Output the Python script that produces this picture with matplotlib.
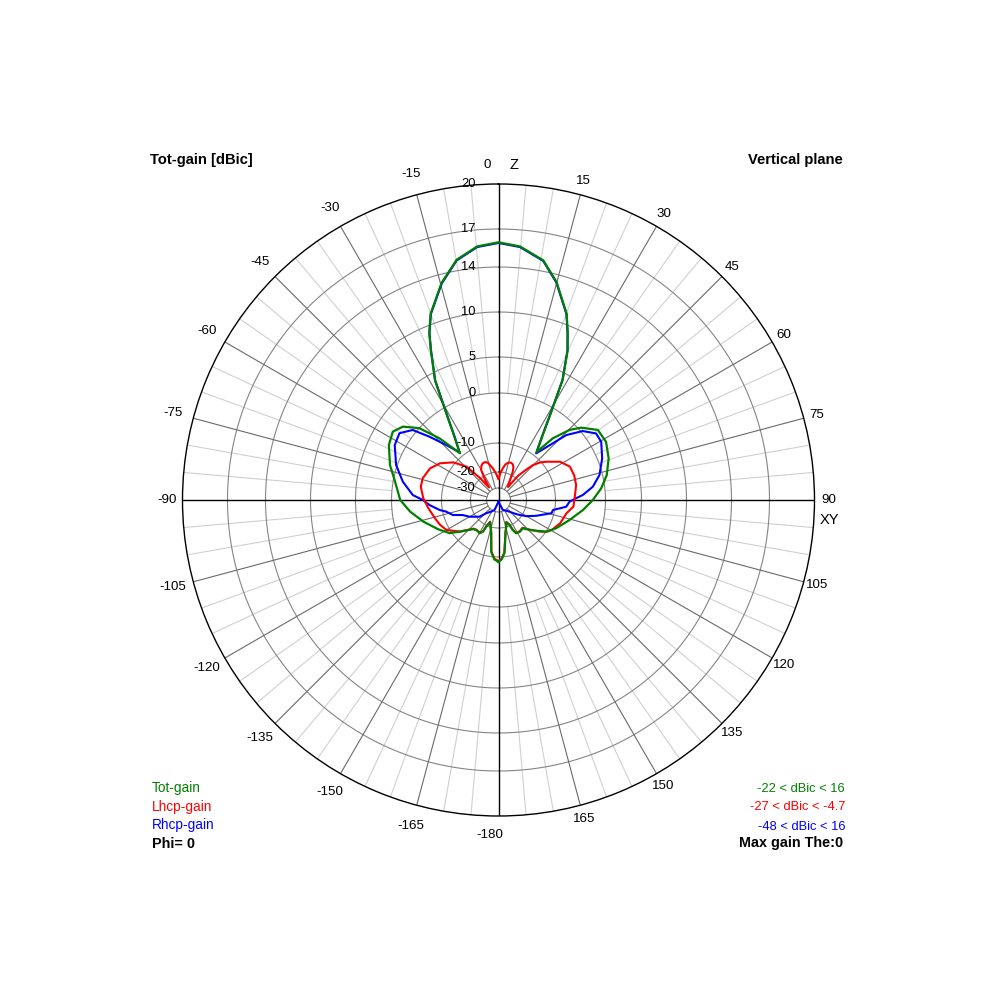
import numpy as np
import matplotlib
matplotlib.use("Agg")
import matplotlib.pyplot as plt

plt.rcParams['font.family'] = ['Liberation Sans', 'DejaVu Sans']

# ---------------- data ----------------
# non-linear dB scale of the chart: level -> relative radius
SCALE_DB = [-50, -30, -20, -10, 0, 5, 10, 14, 17, 20]
SCALE_R = [1.4, 12, 28, 57, 107, 143, 188, 233, 271, 316]

GRID_DB = [-30, -20, -10, 0, 5, 10, 14, 17, 20]
GRID_LABELS = ['-30', '-20', '-10', '0', '5', '10', '14', '17', '20']

ANGLE_TICKS = [15, 30, 45, 60, 75, 90, 105, 120, 135, 150, 165, 180,
               -15, -30, -45, -60, -75, -90, -105, -120, -135, -150, -165]
ANGLE_LABELS = ['15', '30', '45', '60', '75', '90', '105', '120', '135', '150', '165', '-180',
                '-15', '-30', '-45', '-60', '-75', '-90', '-105', '-120', '-135', '-150', '-165']

# Total gain (dBic) vs elevation angle theta (deg, 0 = zenith, clockwise)
TOT_ANG = [-180, -176, -172, -167.6, -163.5, -159, -155.3, -153.7, -150.3, -147, -143.4, -139,
           -134.6, -129.5, -124, -115.8, -106.1, -97.5, -90, -80, -72.1, -63.4, -57.1, -52.5,
           -47.8, -43.7, -39.5, -34.5, -31.5, -29.4, -27.9, -24.3, -22.5, -20, -14.7, -9.9, -4.8,
           0, 4.85, 10.6, 14.9, 20.1, 22.5, 24.8, 28.1, 29.5, 31.4, 34.1, 38.5, 41.35, 45.4, 48.8,
           54.8, 61.6, 69.3, 77, 83.5, 90, 96.8, 105.7, 116.1, 123.6, 128, 133.6, 139.4, 145.9,
           152, 154.5, 156.3, 160.5, 164, 168, 173.6, 177, 180]
TOT_DB = [-8.7, -9.3, -11.2, -17.2, -20.0, -22.0, -19.3, -16.7, -15.6, -15.9, -15.9, -15.5,
          -14.0, -11.9, -9.4, -7.4, -5.0, -2.9, -1.35, -0.3, 1.1, 2.35, 2.8, 2.05,
          0.0, -3.6, -9.05, -4.85, -1.45, 1.5, 4.1, 7.55, 9.3, 11.0, 13.3, 14.9, 15.75,
          16.0, 15.75, 14.9, 13.4, 11.0, 9.3, 7.6, 4.15, 1.55, -1.35, -4.7, -8.85, -4.2, -1.1, 0.45,
          2.2, 2.3, 1.65, 0.65, -0.55, -2.0, -3.65, -5.9, -8.1, -9.9, -11.8, -13.8, -16.0, -15.6,
          -15.8, -17.6, -20.3, -22.0, -20.0, -17.3, -10.9, -9.3, -8.7]

# LHCP gain (dBic)
LHCP_ANG = [-180, -176, -172, -167.6, -163.5, -159, -155.3, -153.7, -150.3, -143.4, -139, -134.6,
            -129.5, -125, -120.1, -113.1, -106.1, -96.7, -88.7, -80.3, -74, -65.2, -57.9, -50.2,
            -43.7, -40.2, -37, -33, -30, -26.5, -23.2, -19.5, -16, -10.2, -5, 0, 4, 7.7, 11, 14,
            18, 21.7, 24.5, 26.8, 31.8, 36, 39, 42, 44.6, 48, 51.5, 58.1, 65, 72, 79, 88.7, 95.1,
            101, 110.7, 119.4, 123.3, 127.5, 133.6, 139.4, 145.9, 152, 154.5, 156.3, 160.5, 164,
            168, 173.6, 177, 180]
LHCP_DB = [-8.9, -9.5, -11.4, -17.4, -20.2, -22.2, -19.5, -16.9, -15.8, -16.1, -15.7, -14.2,
           -12.0, -10.8, -9.2, -8.3, -7.65, -6.6, -5.6, -4.85, -4.85, -5.55, -6.95, -9.5,
           -13.0, -19.5, -26.8, -21.0, -17.0, -15.6, -15.0, -14.9, -15.4, -18.0, -20.8, -23.6,
           -20.5, -18.1, -16.4, -15.6, -15.2, -15.5, -16.5, -18.3, -24.0, -26.5, -18.5, -15.0,
           -12.1, -10.2, -8.8, -6.2, -4.85, -4.7, -4.8, -5.4, -5.6, -6.9, -7.7, -8.9, -9.8,
           -11.3, -14.0, -16.2, -15.8, -16.0, -17.8, -20.5, -22.2, -20.2, -17.5, -11.1, -9.5, -8.9]

# RHCP gain (dBic)
RHCP_ANG = [-180, -158.2, -148, -137.2, -131.3, -120, -112.8, -108.2, -102.6, -99.6, -94.1, -90,
            -86.7, -79.2, -71.1, -62.1, -56, -50.8, -47.5, -43.5, -39.3, -34.5, -31.5, -29.4,
            -27.9, -24.3, -22.5, -20, -14.7, -9.9, -4.8, 0, 4.85, 10.6, 14.9, 20.1, 22.5, 24.8,
            28.1, 29.5, 31.4, 34.1, 38.9, 43.8, 46.2, 50.7, 55.7, 60.4, 68.1, 76.1, 82, 86.6,
            88.7, 91.4, 95.7, 100.4, 104, 112.8, 120, 125.5, 130, 136.8, 146, 156.7, 180]
RHCP_DB = [-48, -31.0, -28.5, -25.2, -21.2, -17.5, -15.4, -12.4, -10.9, -9.25, -6.9, -5.5,
           -3.5, -1.5, 0.2, 1.6, 1.9, 0.6, -2.1, -5.5, -8.8, -5.0, -1.55, 1.45,
           4.05, 7.5, 9.25, 10.95, 13.25, 14.85, 15.7, 15.95, 15.7, 14.85, 13.35, 10.95, 9.25, 7.55,
           4.1, 1.5, -1.45, -4.9, -9.2, -4.9, -2.1, 0.3, 1.7, 1.7, 0.75, -0.45, -1.85, -3.75,
           -5.1, -6.5, -7.2, -10.4, -10.6, -14.7, -18.0, -21.0, -23.3, -26.6, -29.3, -30.9, -48]

LEGEND_LEFT = ['Tot-gain', 'Lhcp-gain', 'Rhcp-gain']
LEGEND_RIGHT = ['-22 < dBic < 16', '-27 < dBic < -4.7', '-48 < dBic < 16']

GREEN = '#008000'
RED = '#ff0000'
BLUE = '#0000ff'


def to_r(db):
    db = np.asarray(db, dtype=float)
    return np.exp(np.interp(db, SCALE_DB, np.log(SCALE_R))) / SCALE_R[-1]


# ---------------- figure ----------------
W = 1000
CX, CY, RPX = 498.5, 500, 316
fig = plt.figure(figsize=(10, 10), dpi=100)
fig.patch.set_facecolor('white')
ax = fig.add_axes([(CX - RPX) / W, (W - CY - RPX) / W, 2 * RPX / W, 2 * RPX / W],
                  projection='polar')
ax.set_theta_zero_location('N')
ax.set_theta_direction(-1)
ax.set_ylim(0, 1)
ax.set_xticks([])
ax.set_yticks([])
ax.grid(False)
ax.spines['polar'].set_color('black')
ax.spines['polar'].set_linewidth(1.0)

# grid circles
full = np.linspace(0, 2 * np.pi, 1441)
for g in GRID_DB[:-1]:
    ax.plot(full, np.full_like(full, to_r(g)), color='#858585', lw=0.8, zorder=1)

# radial lines
for a in range(0, 360, 5):
    t = np.deg2rad(a)
    if a % 90 == 0:
        ax.plot([t, t], [0, 1], color='black', lw=1.0, zorder=2)
    elif a % 15 == 0:
        ax.plot([t, t], [to_r(-30), 1], color='#6a6a6a', lw=0.8, zorder=1)
    else:
        ax.plot([t, t], [to_r(0), 1], color='#d0d0d0', lw=0.8, zorder=0.9)

# patterns
ax.plot(np.deg2rad(RHCP_ANG), to_r(RHCP_DB), color=BLUE, lw=1.5, zorder=3)
ax.plot(np.deg2rad(LHCP_ANG), to_r(LHCP_DB), color=RED, lw=1.5, zorder=4)
ax.plot(np.deg2rad(TOT_ANG), to_r(TOT_DB), color=GREEN, lw=1.6, zorder=5)

# radial labels
for g, lab in zip(GRID_DB, GRID_LABELS):
    ax.annotate(lab, xy=(0, to_r(g)), xytext=(-23, 0), textcoords='offset pixels',
                ha='right', va='center', fontsize=9.3, annotation_clip=False, zorder=6)

# angle labels
for a, lab in zip(ANGLE_TICKS, ANGLE_LABELS):
    t = np.deg2rad(a)
    if a == 180:
        off = (-8.5, -19)
    else:
        d = 14 if a > 0 else 21
        if a == -90:
            d = 15
        off = (d * np.sin(t), d * np.cos(t))
    ax.annotate(lab, xy=(t, 1), xytext=off, textcoords='offset pixels',
                ha='center', va='center', fontsize=9.6, annotation_clip=False)

ax.annotate('0', xy=(0, 1), xytext=(-11.5, 19), textcoords='offset pixels',
            ha='center', va='center', fontsize=9.6, annotation_clip=False)
ax.annotate('Z', xy=(0, 1), xytext=(15.5, 19), textcoords='offset pixels',
            ha='center', va='center', fontsize=10.5, annotation_clip=False)
ax.annotate('XY', xy=(np.pi / 2, 1), xytext=(14.5, -20), textcoords='offset pixels',
            ha='center', va='center', fontsize=10.5, annotation_clip=False)

# corner texts
fig.text(150 / W, 1 - 164 / W, 'Tot-gain [dBic]', fontsize=10.6, fontweight='bold',
         ha='left', va='baseline')
fig.text(843 / W, 1 - 164 / W, 'Vertical plane', fontsize=10.6, fontweight='bold',
         ha='right', va='baseline')

ys = [792, 810.5, 829.5]
for txt, col, y in zip(LEGEND_LEFT, [GREEN, RED, BLUE], ys):
    fig.text(152 / W, 1 - y / W, txt, color=col, fontsize=9.8, ha='left', va='baseline')
for txt, col, y in zip(LEGEND_RIGHT, [GREEN, RED, BLUE], ys):
    fig.text(845 / W, 1 - y / W, txt, color=col, fontsize=9.3, ha='right', va='baseline')
fig.text(152 / W, 1 - 847.5 / W, 'Phi= 0', fontsize=10.4, fontweight='bold',
         ha='left', va='baseline')
fig.text(843 / W, 1 - 847.5 / W, 'Max gain The:0', fontsize=10.4, fontweight='bold',
         ha='right', va='baseline')

fig.savefig('out.png', dpi=100, facecolor='white')
